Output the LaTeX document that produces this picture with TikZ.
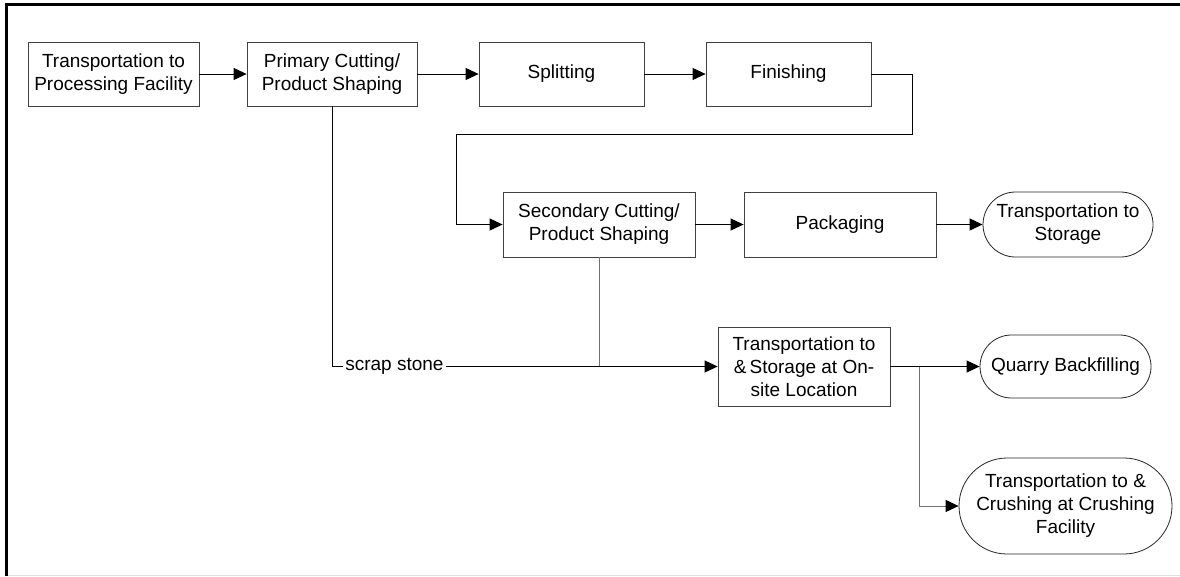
\documentclass[tikz,border=0pt]{standalone}
\usepackage{fontspec}
\setmainfont{Liberation Sans}
\usetikzlibrary{arrows.meta,calc}
\begin{document}
\begin{tikzpicture}[x=1pt,y=-1pt,
  txt/.style={font=\fontsize{19}{23}\selectfont},
  box/.style={draw=black!75,line width=0.8pt,fill=white,inner sep=0pt,align=center,txt},
  pill/.style={box,draw=black!85},
  link/.style={draw=black,line width=0.9pt},
  graylink/.style={draw=black!55,line width=1pt},
  tip/.tip={Triangle[length=13pt,width=12pt,color=black]},
  arr/.style={link,-tip}]
\useasboundingbox (0,0) rectangle (1180,576);
\fill[white] (0,0) rectangle (1180,576);
% frame
\draw[black,line width=2.2pt] (6.5,576) -- (6.5,4.5) -- (1180,4.5);
\draw[black!12,line width=1pt] (8,575) -- (1180,575);
% nodes
\node[box,minimum width=171pt,minimum height=64pt] (tp) at (113.5,74) {Transportation to\\Processing Facility};
\node[box,minimum width=170pt,minimum height=64pt] (pc) at (332,74) {Primary Cutting/\\Product Shaping};
\node[box,minimum width=165pt,minimum height=64pt] (sp) at (561.5,74) {Splitting};
\node[box,minimum width=165pt,minimum height=64pt] (fi) at (788.5,74) {Finishing};
\node[box,minimum width=192pt,minimum height=65pt] (sc) at (599,224.5) {Secondary Cutting/\\Product Shaping};
\node[box,minimum width=192pt,minimum height=65pt] (pk) at (840,224.5) {Packaging};
\node[pill,rounded corners=32.5pt,minimum width=170pt,minimum height=65pt] (ts) at (1068,224.5) {Transportation to\\Storage};
\node[box,minimum width=172pt,minimum height=79pt] (os) at (804,366.5) {Transportation to\\\&\,Storage at On-\\site Location};
\node[pill,rounded corners=31.5pt,minimum width=171pt,minimum height=63pt] (qb) at (1065.5,366.5) {Quarry Backfilling};
\node[pill,rounded corners=48pt,minimum width=213pt,minimum height=96pt] (cr) at (1065.5,506) {Transportation to \&\\Crushing at Crushing\\Facility};
% helper coordinates
\coordinate (f1) at (912,74);
\coordinate (f2) at (912,134);
\coordinate (f3) at (456,134);
\coordinate (br) at (919,366.5);
% connectors
\draw[arr] (tp) -- (pc);
\draw[arr] (pc) -- (sp);
\draw[arr] (sp) -- (fi);
\draw[arr] (fi.east) -- (f1) -- (f2) -- (f3) |- (sc.west);
\draw[arr] (sc) -- (pk);
\draw[arr] (pk) -- (ts);
\draw[graylink] (sc.south) -- (sc.south |- os.west);
\draw[arr] (pc.south) |- node[pos=0.581,fill=white,inner sep=2pt,txt]{scrap stone} (os.west);
\draw[arr] (os.east) -- (qb.west);
\draw[graylink,-tip] (br) |- (cr.west);
\end{tikzpicture}
\end{document}
